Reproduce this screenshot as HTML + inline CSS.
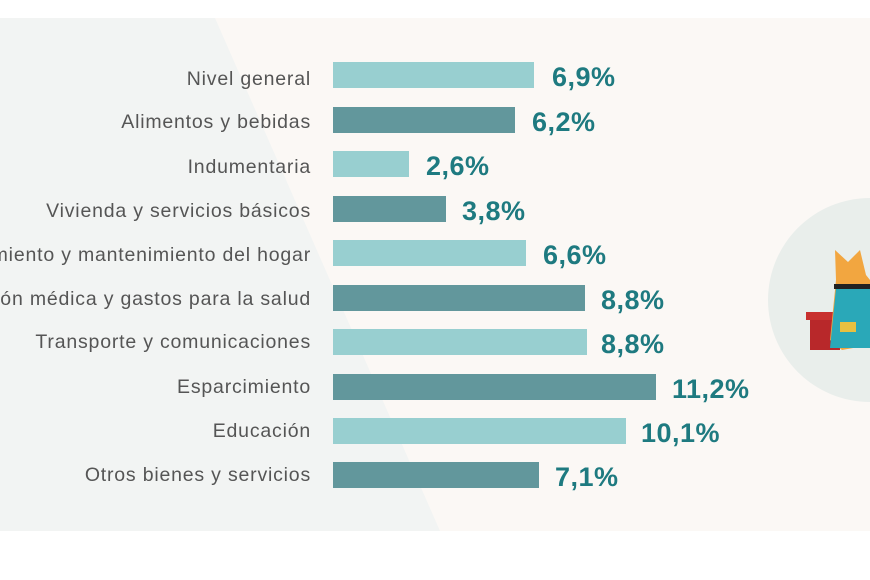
<!DOCTYPE html>
<html><head><style>
body{margin:0;width:870px;height:580px;overflow:hidden;background:#fff;font-family:"Liberation Sans",sans-serif;position:relative}
#w{position:absolute;left:0;top:0;width:870px;height:580px;overflow:hidden}
.lbl{position:absolute;right:559px;font-size:19.5px;letter-spacing:0.8px;color:#555;white-space:nowrap;line-height:26px}
.bar{position:absolute;left:333px;height:26px}
.val{position:absolute;font-size:27px;letter-spacing:0.5px;font-weight:bold;color:#1e7a80;line-height:26px}
</style></head><body><div id="w">
<svg width="870" height="580" style="position:absolute;left:0;top:0">
<rect x="0" y="18" width="870" height="513" fill="#fbf8f5"/>
<polygon points="0,18 215,18 440,531 0,531" fill="#f2f4f3"/>
<circle cx="870" cy="300" r="102" fill="#e9eeeb"/>
<rect x="810" y="316" width="30" height="34" fill="#b8282a"/>
<rect x="806" y="312" width="38" height="8" fill="#c8302e"/>
<path d="M835,250 L848,262 L860,250 L866,275 L870,280 L870,345 L842,350 L830,340 L836,280 Z" fill="#f2a640"/>
<path d="M836,288 L870,288 L870,348 L830,348 Z" fill="#2aa8b8"/>
<rect x="834" y="284" width="36" height="5" fill="#222"/>
<rect x="840" y="322" width="16" height="10" fill="#e8c040"/>
</svg>
<div class="lbl" style="top:66px">Nivel general</div>
<div class="lbl" style="top:109px">Alimentos y bebidas</div>
<div class="lbl" style="top:154px">Indumentaria</div>
<div class="lbl" style="top:198px">Vivienda y servicios básicos</div>
<div class="lbl" style="top:242px">Equipamiento y mantenimiento del hogar</div>
<div class="lbl" style="top:286px">Atención médica y gastos para la salud</div>
<div class="lbl" style="top:329px">Transporte y comunicaciones</div>
<div class="lbl" style="top:374px">Esparcimiento</div>
<div class="lbl" style="top:418px">Educación</div>
<div class="lbl" style="top:462px">Otros bienes y servicios</div>

<div class="bar" style="top:62px;width:201px;background:#98cfd0"></div><div class="val" style="top:64px;left:552px">6,9%</div>
<div class="bar" style="top:107px;width:182px;background:#62979c"></div><div class="val" style="top:109px;left:532px">6,2%</div>
<div class="bar" style="top:151px;width:76px;background:#98cfd0"></div><div class="val" style="top:153px;left:426px">2,6%</div>
<div class="bar" style="top:196px;width:113px;background:#62979c"></div><div class="val" style="top:198px;left:462px">3,8%</div>
<div class="bar" style="top:240px;width:193px;background:#98cfd0"></div><div class="val" style="top:242px;left:543px">6,6%</div>
<div class="bar" style="top:285px;width:252px;background:#62979c"></div><div class="val" style="top:287px;left:601px">8,8%</div>
<div class="bar" style="top:329px;width:254px;background:#98cfd0"></div><div class="val" style="top:331px;left:601px">8,8%</div>
<div class="bar" style="top:374px;width:323px;background:#62979c"></div><div class="val" style="top:376px;left:672px">11,2%</div>
<div class="bar" style="top:418px;width:293px;background:#98cfd0"></div><div class="val" style="top:420px;left:641px">10,1%</div>
<div class="bar" style="top:462px;width:206px;background:#62979c"></div><div class="val" style="top:464px;left:555px">7,1%</div>
</div></body></html>
